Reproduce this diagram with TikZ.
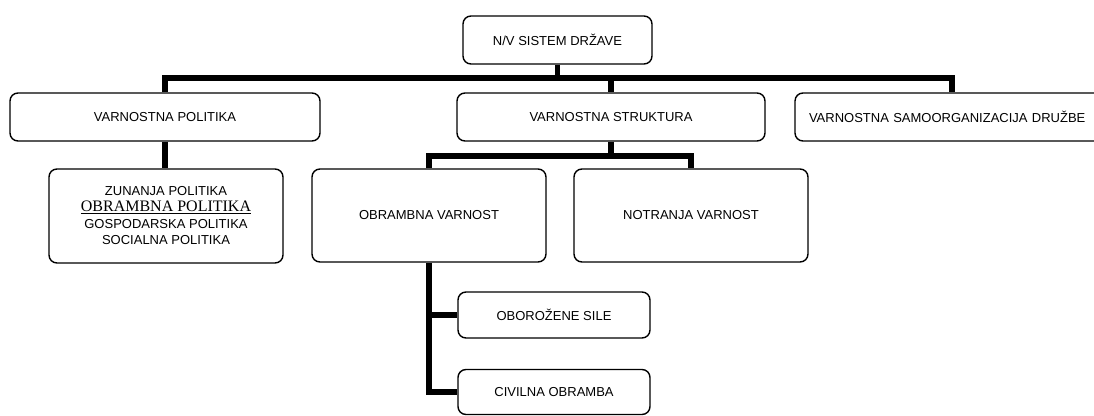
\documentclass[tikz,border=0pt]{standalone}
\usepackage{fontspec}
\setmainfont{Liberation Sans}
\newfontfamily\timesf{Liberation Serif}
\usetikzlibrary{backgrounds}
\tikzset{
  box/.style={draw, line width=1.4pt, rounded corners=8pt, fill=white, align=center,
    font=\fontsize{13}{16}\selectfont, inner sep=0pt},
  bar/.style={line width=5.5pt}
}
\begin{document}
\begin{tikzpicture}[x=1pt,y=-1pt]
\clip (0,0) rectangle (1094,415);
\node[box, minimum width=189pt, minimum height=48pt] (top) at (557.5,40) {N/V SISTEM DRŽAVE};
\node[box, minimum width=310pt, minimum height=48pt] (vp) at (165,117) {VARNOSTNA POLITIKA};
\node[box, minimum width=308pt, minimum height=48pt] (vs) at (611,117) {VARNOSTNA STRUKTURA};
\node[box, minimum width=314pt, minimum height=48pt, text width=286pt, align=left] (vsd) at (952,117) {VARNOSTNA SAMOORGANIZACIJA DRUŽBE};
\node[box, minimum width=234pt, minimum height=94pt] (zp) at (166,216) {ZUNANJA POLITIKA\\{\timesf\fontsize{16}{16}\selectfont\underline{OBRAMBNA POLITIKA}}\\[1pt]GOSPODARSKA POLITIKA\\SOCIALNA POLITIKA};
\node[box, minimum width=234pt, minimum height=93pt] (ov) at (429,215.5) {OBRAMBNA VARNOST};
\node[box, minimum width=234pt, minimum height=93pt] (nv) at (691,215.5) {NOTRANJA VARNOST};
\node[box, minimum width=192pt, minimum height=46pt] (os) at (554,315) {OBOROŽENE SILE};
\node[box, minimum width=192pt, minimum height=45pt] (co) at (554,392) {CIVILNA OBRAMBA};
\coordinate (b1) at (0,78);
\coordinate (b2) at (0,156);
\begin{scope}[on background layer]
\draw[bar] (top.south) -- (top.south |- b1);
\draw[bar] (vp.north) -- (vp.north |- b1) -| (vsd.north);
\draw[bar] (vs.north |- b1) -- (vs.north);
\draw[bar] (vp.south) -- (vp.south |- zp.north);
\draw[bar] (vs.south) -- (vs.south |- b2);
\draw[bar] (ov.north) -- (ov.north |- b2) -| (nv.north);
\draw[bar] (ov.south) |- (co.west);
\draw[bar] (ov.south |- os.west) -- (os.west);
\end{scope}
\end{tikzpicture}
\end{document}
